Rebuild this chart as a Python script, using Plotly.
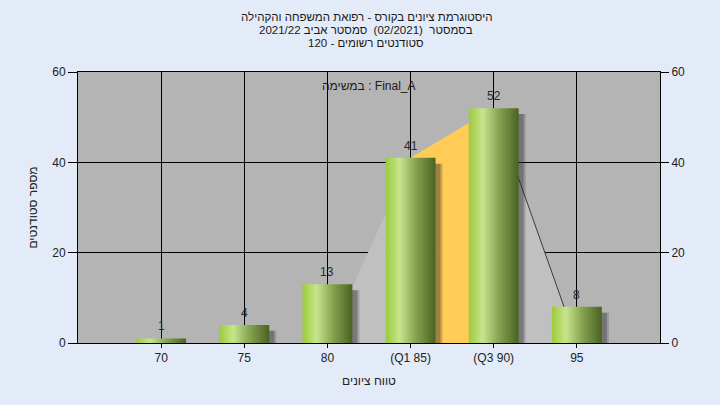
import plotly.graph_objects as go

categories = ["70", "75", "80", "(Q1 85)", "(Q3 90)", "95"]
counts = [1, 4, 13, 41, 52, 8]
q1_index = 3
q3_index = 4
y_ticks = [0, 20, 40, 60]

title_lines = [
    "היסטוגרמת ציונים בקורס - רפואת המשפחה והקהילה",
    "בסמסטר  (02/2021)  סמסטר אביב 2021/22",
    "סטודנטים רשומים - 120",
]
task_label = "במשימה : Final_A"
x_title = "טווח ציונים"
y_title = "מספר סטודנטים"

FONT = "Liberation Sans, Arial, DejaVu Sans, sans-serif"
bar_w = 0.6
xs = list(range(len(categories)))

fig = go.Figure()

# distribution area behind the bars (from Q1-1 to Q3+1)
area_x = [q1_index - 1, q1_index, q3_index, q3_index + 1, q1_index - 1]
area_y = [0, counts[q1_index], counts[q3_index], 0, 0]
fig.add_trace(go.Scatter(x=area_x, y=area_y, fill="toself", fillcolor="#c0c0c0",
                         mode="lines", line=dict(width=0), hoverinfo="skip", showlegend=False))
# inter-quartile region
fig.add_trace(go.Scatter(x=[q1_index, q3_index, q3_index, q1_index, q1_index],
                         y=[counts[q1_index], counts[q3_index], 0, 0, counts[q1_index]],
                         fill="toself", fillcolor="#ffcc55", mode="lines", line=dict(width=0),
                         hoverinfo="skip", showlegend=False))
# descending line
fig.add_trace(go.Scatter(x=[q3_index, q3_index + 1], y=[counts[q3_index], 0], mode="lines",
                         line=dict(color="#3c3c3c", width=1), hoverinfo="skip", showlegend=False))

# bar shadows (soft: two layers)
for off, alpha in [(0.085, 0.2), (0.06, 0.32)]:
    for i, v in zip(xs, counts):
        sx0, sx1 = i - bar_w / 2 + off, i + bar_w / 2 + off
        sy1 = max(v - 1.3, 0)
        fig.add_trace(go.Scatter(x=[sx0, sx1, sx1, sx0, sx0], y=[-2, -2, sy1, sy1, -2],
                                 fill="toself", fillcolor=f"rgba(40,40,40,{alpha})", mode="lines",
                                 line=dict(width=0), hoverinfo="skip", showlegend=False))

# gradient bars
for i, v in zip(xs, counts):
    x0, x1 = i - bar_w / 2, i + bar_w / 2
    fig.add_trace(go.Scatter(
        x=[x0, x1, x1, x0, x0], y=[0, 0, v, v, 0], fill="toself", mode="lines",
        line=dict(width=0), fillcolor="#8fb04a",
        fillgradient=dict(type="horizontal",
                          colorscale=[[0, "#9ccb3a"], [0.28, "#c8e48e"], [0.6, "#86a452"], [1, "#4a6222"]]),
        hoverinfo="skip", showlegend=False))

# value labels
for i, v in zip(xs, counts):
    fig.add_annotation(x=i, y=v, text=str(v), showarrow=False, yanchor="bottom", yshift=3,
                       font=dict(family=FONT, size=12, color="#2a2a2a"))

# invisible trace for the right axis
fig.add_trace(go.Scatter(x=[xs[0]], y=[0], yaxis="y2", mode="markers",
                         marker=dict(opacity=0), hoverinfo="skip", showlegend=False))

fig.update_layout(
    width=720, height=405,
    margin=dict(l=78, r=60, t=72, b=62),
    paper_bgcolor="#e2ebf7",
    plot_bgcolor="#b4b4b4",
    font=dict(family=FONT, size=12, color="#222222"),
    xaxis=dict(range=[-1, 6], tickvals=xs, ticktext=categories, showgrid=True,
               gridcolor="#000000", gridwidth=1, showline=True, linecolor="#000000",
               linewidth=1, mirror=True, ticks="outside", ticklen=4, tickcolor="#000000",
               zeroline=False, tickfont=dict(size=12, color="#222222"),
               title=dict(text=x_title, font=dict(size=12), standoff=12)),
    yaxis=dict(range=[0, 60], tickvals=y_ticks, showgrid=True, gridcolor="#000000",
               gridwidth=1, showline=True, linecolor="#000000", linewidth=1,
               ticks="outside", ticklen=9, tickcolor="#000000", zeroline=False,
               tickfont=dict(size=12, color="#222222"),
               title=dict(text=y_title, font=dict(size=12), standoff=12)),
    yaxis2=dict(range=[0, 60], tickvals=y_ticks, overlaying="y", side="right",
                showgrid=False, showline=True, linecolor="#000000", linewidth=1,
                ticks="outside", ticklen=8, tickcolor="#000000", zeroline=False,
                tickfont=dict(size=12, color="#222222")),
)

title_y = [1.203, 1.155, 1.107]
for line, ty in zip(title_lines, title_y):
    fig.add_annotation(text=line, x=0.495, y=ty, xref="paper", yref="paper",
                       showarrow=False, yanchor="middle",
                       font=dict(family=FONT, size=11.5, color="#1a1a1a"))

fig.add_annotation(text=task_label, x=0.5, y=0.948, xref="paper", yref="paper",
                   showarrow=False, yanchor="middle",
                   font=dict(family=FONT, size=12, color="#1a1a1a"))

fig.write_html("out.html", config={"displayModeBar": False},
               post_script="document.body.style.margin='0';")
